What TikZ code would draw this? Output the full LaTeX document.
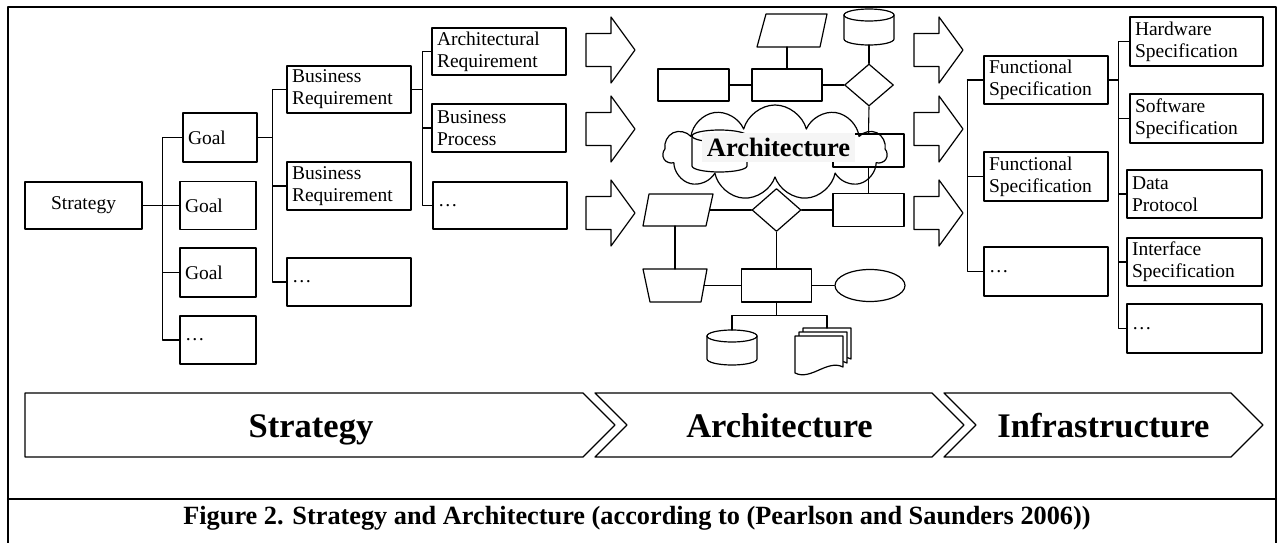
\documentclass[tikz,border=0pt]{standalone}
\usepackage{fontspec}
\setmainfont{Liberation Serif}
\usetikzlibrary{shapes.geometric,shapes.symbols}

\begin{document}
\begin{tikzpicture}[x=1pt, y=-1pt, line join=round, line cap=round,
  box/.style={draw, line width=1.2pt, inner xsep=5pt, inner ysep=0pt, align=left, text width=#1, minimum height=48pt, font=\fontsize{19.5}{22}\selectfont},
  conn/.style={line width=1.1pt},
  ln/.style={draw, line width=1.2pt},
  shp/.style={draw, line width=1.2pt, inner sep=0pt},
  arr/.style={draw, line width=1.2pt},
  chev/.style={draw, line width=1.3pt},
  chevtxt/.style={anchor=base, font=\bfseries\fontsize{34.5}{40}\selectfont}]
\useasboundingbox (0,0) rectangle (1278,543);
% frame
\draw[line width=2.4pt] (8,543) -- (8,7) -- (1276,7) -- (1276,543);
\draw[line width=2.4pt] (8,499) -- (1276,499);
% strategy tree
\node[box=107pt, align=center, minimum height=47pt] (strat) at (83.5,205.5) {Strategy};
\node[box=64pt, minimum height=49pt] (g1) at (220,137.5) {Goal};
\node[box=66pt] (g2) at (218,205.5) {Goal};
\node[box=66pt, minimum height=49pt] (g3) at (218,272.5) {Goal};
\node[box=66pt] (g4) at (218,340) {\ldots};
\foreach \n in {g1,g2,g3,g4} \draw[conn] (strat.east) -- ++(20,0) |- (\n.west);
\node[box=114pt, minimum height=47pt] (br1) at (349,89.5) {Business\\Requirement};
\node[box=114pt] (br2) at (349,186) {Business\\Requirement};
\node[box=114pt] (br3) at (349,282) {\ldots};
\foreach \n in {br1,br2,br3} \draw[conn] (g1.east) -- ++(15,0) |- (\n.west);
\node[box=124pt, minimum height=47pt] (ar) at (499,51.5) {Architectural\\Requirement};
\node[box=124pt] (bp) at (499,128) {Business\\Process};
\node[box=124pt, minimum height=47pt] (ad) at (500,205.5) {\ldots};
\foreach \n in {ar,bp,ad} \draw[conn] (br1.east) -- ++(11,0) |- (\n.west);
% block arrows
\foreach \x in {586,914}
  \foreach \y in {50,129,213}
    \draw[arr] (\x,\y-16.5) -- ++(25,0) -- ++(0,-16.5) -- (\x+49,\y) -- (\x+25,\y+33) -- ++(0,-16.5) -- (\x,\y+16.5) -- cycle;
% architecture sketch
\draw[ln] (766,14) -- (827,14) -- (820,47) -- (757,47) -- cycle;
\coordinate (pa1) at (788,47);
\draw[ln] (844,15) -- (844,39) arc[start angle=180, end angle=0, x radius=25, y radius=6] -- (894,15);
\draw[ln] (869,15) ellipse[x radius=25, y radius=6];
\coordinate (cy1) at (869,45);
\node[shp, minimum width=71pt, minimum height=32pt] (r1) at (693.5,85) {};
\node[shp, minimum width=70pt, minimum height=32pt] (r2) at (787,85) {};
\node[shp, diamond, minimum width=49pt, minimum height=42pt] (dm1) at (869,85) {};
\node[shp, minimum width=71pt, minimum height=33pt] (r3) at (868.5,150.5) {};
\node[shp, minimum width=71pt, minimum height=33pt] (r4) at (868.5,210) {};
\draw[ln] (692,136) -- (692,166) arc[start angle=180, end angle=0, x radius=27.5, y radius=6] -- (747,136);
\draw[ln] (719.5,136) ellipse[x radius=27.5, y radius=6];
\draw[ln] (649,194) -- (713,194) -- (706,226) -- (643,226) -- cycle;
\coordinate (pa2e) at (709.5,210);
\coordinate (pa2s) at (675,226);
\node[shp, diamond, minimum width=49pt, minimum height=43pt] (dm2) at (776.5,210) {};
\draw[ln] (643,269) -- (707,269) -- (701,302) -- (650,302) -- cycle;
\coordinate (trn) at (675,269);
\coordinate (tre) at (704,285.5);
\node[shp, minimum width=70pt, minimum height=33pt] (r5) at (776.5,285.5) {};
\node[shp, ellipse, minimum width=70pt, minimum height=32pt] (ell) at (870,285.5) {};
\draw[ln] (707,336) -- (707,359) arc[start angle=180, end angle=0, x radius=25, y radius=6] -- (757,336);
\draw[ln] (732,336) ellipse[x radius=25, y radius=6];
\coordinate (cy2) at (732,330);
\foreach \d in {8,4,0}
  \draw[ln, fill=white] (795+\d,336-\d) -- ++(48,0) -- ++(0,31) .. controls +(-16,-8) and +(16,8) .. (795+\d,373-\d) -- cycle;
\coordinate (doc) at (827,328);
\draw[conn] (r1) -- (r2);
\draw[conn] (r2) -- (dm1);
\draw[conn] (r2.north) -- (r2.north |- pa1);
\draw[conn] (cy1) -- (dm1.north);
\draw[conn] (dm1.south) -- (r3.north);
\draw[conn] (r3.south) -- (r4.north);
\draw[conn] (pa2e) -- (dm2);
\draw[conn] (dm2) -- (r4);
\draw[conn] (pa2s) -- (trn);
\draw[conn] (dm2.south) -- (r5.north);
\draw[conn] (tre) -- (r5);
\draw[conn] (r5) -- (ell);
\draw[conn] (r5.south) -- ++(0,13) -| (cy2);
\draw[conn] (r5.south) -- ++(0,13) -| (doc);
\node[draw, line width=1.2pt, cloud, cloud puffs=11, aspect=2.4, minimum width=224pt, minimum height=95pt] (cld) at (775,152.5) {};
\node[fill=gray!8, font=\bfseries\fontsize{26.5}{30}\selectfont, inner xsep=4.5pt, minimum height=29pt] (alab) at (778.5,147.5) {Architecture};
% specification tree
\node[box=114pt] (fs1) at (1046,80) {Functional\\Specification};
\node[box=114pt, minimum height=49pt] (fs2) at (1046,176.5) {Functional\\Specification};
\node[box=114pt, minimum height=49pt] (fs3) at (1046,271.5) {\ldots};
\foreach \n in {fs1,fs2,fs3} \draw[conn] (fs1.west) -- ++(-16,0) |- (\n.west);
\node[box=123pt, minimum height=49pt] (hw) at (1196.5,41.5) {Hardware\\Specification};
\node[box=123pt, minimum height=49pt] (sw) at (1196.5,118.5) {Software\\Specification};
\node[box=125pt] (dp) at (1194.5,194) {Data\\Protocol};
\node[box=125pt] (ifs) at (1194.5,262) {Interface\\Specification};
\node[box=125pt, minimum height=49pt] (dt) at (1194.5,328.5) {\ldots};
\foreach \n in {hw,sw,dp,ifs,dt} \draw[conn] (fs1.east) -- ++(10,0) |- (\n.west);
% chevron band
\draw[chev] (25,393) -- (583,393) -- (615,425) -- (583,457) -- (25,457) -- cycle;
\node[chevtxt] (cs) at (311,437) {Strategy};
\draw[chev] (595,393) -- (932,393) -- (964,425) -- (932,457) -- (595,457) -- (627,425) -- cycle;
\node[chevtxt] (ca) at (779.5,437) {Architecture};
\draw[chev] (944,393) -- (1231,393) -- (1263,425) -- (1231,457) -- (944,457) -- (976,425) -- cycle;
\node[chevtxt] (ci) at (1103.5,437) {Infrastructure};
% caption
\node[anchor=base, font=\bfseries\fontsize{26.3}{30}\selectfont] (cap) at (637,524) {Figure 2. Strategy and Architecture (according to (Pearlson and Saunders 2006))};
\end{tikzpicture}
\end{document}
